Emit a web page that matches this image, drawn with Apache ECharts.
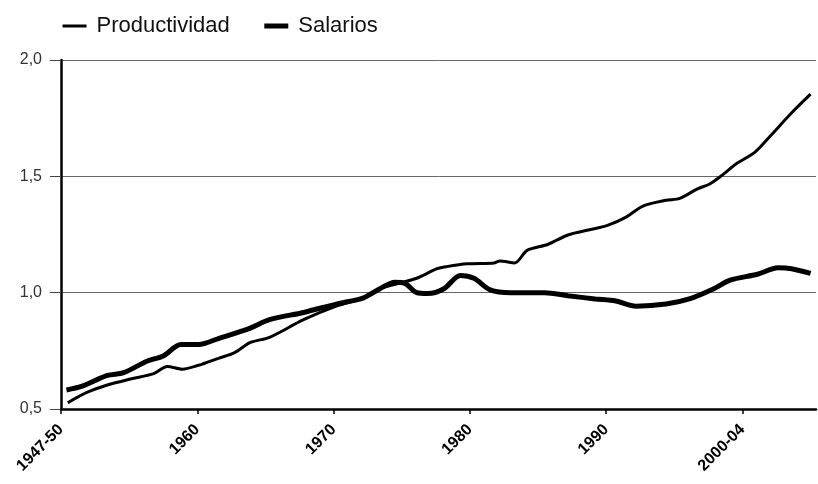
<!DOCTYPE html>
<html>
<head>
<meta charset="utf-8">
<script src="https://cdn.jsdelivr.net/npm/echarts@6/dist/echarts.min.js"></script>
<style>html,body{margin:0;padding:0;background:#fff}#c{width:818px;height:484px}</style>
</head>
<body>
<div id="c"></div>
<script>
const seriesNames = ['Productividad', 'Salarios'];
const xTickValues = [1950, 1960, 1970, 1980, 1990, 2000];
const xTickLabels = ['1947-50', '1960', '1970', '1980', '1990', '2000-04'];
const yTickValues = [0.5, 1.0, 1.5, 2.0];

const prodYears = [1950.5, 1951.9, 1953.4, 1955.1, 1956.8, 1957.8, 1958.9, 1960.1, 1961.6, 1962.7, 1963.9, 1965.3, 1967.8, 1970.2, 1972.2, 1973.4, 1974.6, 1976.1, 1977.6, 1978.3, 1979.8, 1981.8, 1982.2, 1983.3, 1984.2, 1985.7, 1987.2, 1988.7, 1990.1, 1991.5, 1992.7, 1994.4, 1995.4, 1996.7, 1997.6, 1998.5, 1999.6, 2000.9, 2002.1, 2003.6, 2005.0];
const prodValues = [0.527, 0.571, 0.603, 0.629, 0.652, 0.683, 0.671, 0.688, 0.719, 0.741, 0.786, 0.808, 0.884, 0.942, 0.978, 1.017, 1.037, 1.062, 1.103, 1.112, 1.124, 1.128, 1.136, 1.128, 1.182, 1.207, 1.248, 1.269, 1.289, 1.326, 1.372, 1.397, 1.405, 1.446, 1.467, 1.504, 1.556, 1.603, 1.677, 1.772, 1.853];

const salYears = [1950.4, 1951.5, 1953.4, 1954.6, 1956.3, 1957.5, 1958.8, 1960.1, 1961.6, 1963.9, 1965.3, 1967.8, 1970.2, 1972.2, 1973.4, 1974.5, 1975.2, 1976.1, 1976.9, 1978.1, 1979.3, 1980.3, 1981.5, 1983.0, 1985.5, 1987.2, 1989.2, 1990.7, 1992.2, 1994.4, 1996.1, 1997.9, 1999.1, 2001.1, 2002.6, 2003.6, 2005.0];
const salValues = [0.582, 0.597, 0.644, 0.656, 0.705, 0.728, 0.777, 0.777, 0.804, 0.848, 0.884, 0.915, 0.951, 0.978, 1.017, 1.045, 1.041, 1.000, 0.996, 1.017, 1.074, 1.062, 1.012, 1.000, 1.000, 0.987, 0.973, 0.964, 0.942, 0.951, 0.973, 1.017, 1.054, 1.079, 1.107, 1.103, 1.083];

const pair = (xs, ys) => xs.map((x, i) => [x, ys[i]]);
const FONT = '"Liberation Sans", Arial, sans-serif';

const chart = echarts.init(document.getElementById('c'), null, {renderer: 'canvas'});
chart.setOption({
  animation: false,
  backgroundColor: '#fff',
  grid: {left: 61, right: 2, top: 60, bottom: 75},
  legend: {
    left: 56, top: 10,
    itemWidth: 24, itemHeight: 14, itemGap: 32,
    itemStyle: {opacity: 0},
    textStyle: {fontFamily: FONT, fontSize: 22, color: '#111', padding: [0, 0, 0, 5]},
    data: [
      {name: seriesNames[0], lineStyle: {width: 3, color: '#000'}},
      {name: seriesNames[1], lineStyle: {width: 5, color: '#000'}}
    ]
  },
  xAxis: {
    type: 'value', min: 1950, max: 2005.4, interval: 10,
    axisLine: {show: true, onZero: false, lineStyle: {color: '#000', width: 2.5}},
    axisTick: {show: true, length: 5, customValues: xTickValues, lineStyle: {color: '#000', width: 1.5}},
    axisLabel: {
      customValues: xTickValues,
      rotate: 45, margin: 18,
      fontFamily: FONT, fontSize: 16, fontWeight: 'bold', color: '#000',
      formatter: v => { const i = xTickValues.indexOf(Math.round(v)); return i >= 0 ? xTickLabels[i] : ''; }
    },
    splitLine: {show: false}
  },
  yAxis: {
    type: 'value', min: 0.5, max: 2.0, interval: 0.5,
    axisLine: {show: true, lineStyle: {color: '#000', width: 2.5}},
    axisTick: {show: true, length: 11, lineStyle: {color: '#444', width: 1}},
    axisLabel: {
      margin: 19, fontFamily: FONT, fontSize: 16, color: '#333',
      formatter: v => v.toFixed(1).replace('.', ',')
    },
    splitLine: {show: true, lineStyle: {color: '#666', width: 1}}
  },
  series: [
    {
      name: seriesNames[0], type: 'line', data: pair(prodYears, prodValues),
      symbol: 'none', smooth: 0.3,
      lineStyle: {color: '#000', width: 3}, itemStyle: {color: '#000'}
    },
    {
      name: seriesNames[1], type: 'line', data: pair(salYears, salValues),
      symbol: 'none', smooth: 0.3,
      lineStyle: {color: '#000', width: 5}, itemStyle: {color: '#000'}
    }
  ]
});
</script>
</body>
</html>
